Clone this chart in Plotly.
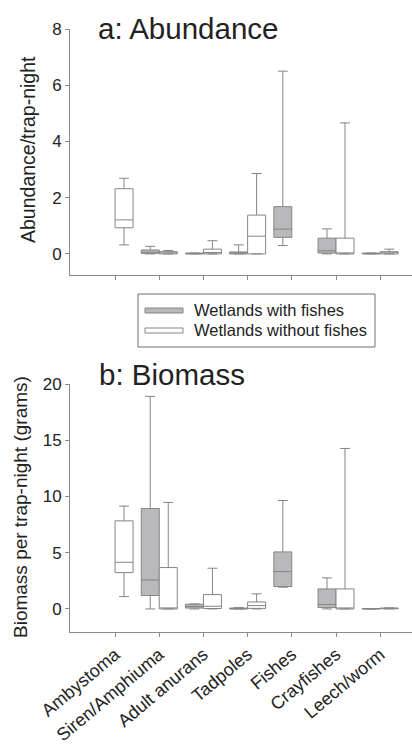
import plotly.graph_objects as go

W, H = 412, 747

categories = ["Ambystoma", "Siren/Amphiuma", "Adult anurans", "Tadpoles",
              "Fishes", "Crayfishes", "Leech/worm"]

# ---- a: Abundance ----
ab_fish_cats = ["Siren/Amphiuma", "Adult anurans", "Tadpoles", "Fishes", "Crayfishes", "Leech/worm"]
ab_fish_low = [0.0, 0.0, 0.0, 0.30, 0.0, 0.0]
ab_fish_q1 = [0.02, 0.0, 0.0, 0.59, 0.03, 0.0]
ab_fish_med = [0.06, 0.01, 0.02, 0.88, 0.11, 0.01]
ab_fish_q3 = [0.14, 0.03, 0.07, 1.68, 0.56, 0.03]
ab_fish_high = [0.27, 0.03, 0.32, 6.50, 0.89, 0.03]

ab_nofish_cats = ["Ambystoma", "Siren/Amphiuma", "Adult anurans", "Tadpoles", "Crayfishes", "Leech/worm"]
ab_nofish_low = [0.32, 0.0, 0.0, 0.0, 0.0, 0.0]
ab_nofish_q1 = [0.93, 0.0, 0.0, 0.0, 0.0, 0.0]
ab_nofish_med = [1.21, 0.04, 0.05, 0.63, 0.0, 0.04]
ab_nofish_q3 = [2.32, 0.08, 0.17, 1.38, 0.56, 0.08]
ab_nofish_high = [2.69, 0.12, 0.47, 2.86, 4.66, 0.17]

# ---- b: Biomass ----
bm_fish_cats = ab_fish_cats
bm_fish_low = [0.0, 0.0, 0.0, 1.93, 0.0, 0.0]
bm_fish_q1 = [1.19, 0.08, 0.0, 1.99, 0.12, 0.0]
bm_fish_med = [2.58, 0.22, 0.02, 3.32, 0.39, 0.01]
bm_fish_q3 = [8.93, 0.42, 0.08, 5.07, 1.78, 0.03]
bm_fish_high = [18.9, 0.45, 0.12, 9.64, 2.76, 0.03]

bm_nofish_cats = ab_nofish_cats
bm_nofish_low = [1.10, 0.0, 0.0, 0.0, 0.0, 0.0]
bm_nofish_q1 = [3.23, 0.0, 0.04, 0.05, 0.0, 0.02]
bm_nofish_med = [4.15, 0.0, 0.24, 0.30, 0.0, 0.05]
bm_nofish_q3 = [7.83, 3.68, 1.28, 0.62, 1.78, 0.08]
bm_nofish_high = [9.14, 9.47, 3.62, 1.34, 14.27, 0.10]

ab_ticks = [0, 2, 4, 6, 8]
bm_ticks = [0, 5, 10, 15, 20]

GREY_FILL = "#b9b9bc"
LINE = "#858585"
AXIS = "#8a8a8a"
TXT = "#222222"
FONT = "Liberation Sans, Arial, sans-serif"

fig = go.Figure()

def add_box(cats, low, q1, med, q3, high, fill, xa, ya, name):
    fig.add_trace(go.Box(
        x=cats, lowerfence=low, q1=q1, median=med, q3=q3, upperfence=high,
        fillcolor=fill, line=dict(color=LINE, width=1), whiskerwidth=0.55,
        xaxis=xa, yaxis=ya, name=name, offsetgroup=name, showlegend=False,
        hoverinfo="skip"))

add_box(ab_fish_cats, ab_fish_low, ab_fish_q1, ab_fish_med, ab_fish_q3, ab_fish_high,
        GREY_FILL, "x", "y", "fish")
add_box(ab_nofish_cats, ab_nofish_low, ab_nofish_q1, ab_nofish_med, ab_nofish_q3, ab_nofish_high,
        "white", "x", "y", "nofish")
add_box(bm_fish_cats, bm_fish_low, bm_fish_q1, bm_fish_med, bm_fish_q3, bm_fish_high,
        GREY_FILL, "x2", "y2", "fish")
add_box(bm_nofish_cats, bm_nofish_low, bm_nofish_q1, bm_nofish_med, bm_nofish_q3, bm_nofish_high,
        "white", "x2", "y2", "nofish")

def px_x(p):
    return p / W

def px_y(p):
    return 1 - p / H

xdom = [px_x(70), 1.0]
xaxis_common = dict(
    type="category", categoryorder="array", categoryarray=categories,
    range=[-1.02, 6.72], domain=xdom, showline=True, linecolor=AXIS, linewidth=1,
    ticks="outside", ticklen=4, tickcolor=AXIS, showgrid=False, zeroline=False,
    automargin=False,
    tickfont=dict(family=FONT, size=18, color=TXT),
)
yaxis_common = dict(
    showline=True, linecolor=AXIS, linewidth=1, ticks="outside", ticklen=4,
    tickcolor=AXIS, showgrid=False, zeroline=False, automargin=False,
    tickfont=dict(family=FONT, size=17, color=TXT),
)

fig.update_layout(
    template="none",
    width=W, height=H, margin=dict(l=0, r=0, t=0, b=0, pad=0),
    paper_bgcolor="white", plot_bgcolor="white",
    boxmode="group", boxgap=0.186, boxgroupgap=0.0,
    showlegend=False,
    font=dict(family=FONT, color=TXT),
    xaxis=dict(xaxis_common, anchor="y", showticklabels=False),
    yaxis=dict(yaxis_common, anchor="x", domain=[px_y(275), px_y(29)],
               range=[-0.75, 8], tickvals=ab_ticks),
    xaxis2=dict(xaxis_common, anchor="y2", tickangle=-40),
    yaxis2=dict(yaxis_common, anchor="x2", domain=[px_y(632), px_y(384)],
                range=[-2.05, 20], tickvals=bm_ticks),
)

annotations = [
    dict(text="a: Abundance", x=px_x(96), y=px_y(28), xanchor="left", yanchor="middle",
         font=dict(size=29.5, family=FONT, color=TXT)),
    dict(text="b: Biomass", x=px_x(97), y=px_y(374), xanchor="left", yanchor="middle",
         font=dict(size=29.5, family=FONT, color=TXT)),
    dict(text="Abundance/trap-night", x=px_x(28), y=px_y(150), textangle=-90,
         xanchor="center", yanchor="middle", font=dict(size=19.5, family=FONT, color=TXT)),
    dict(text="Biomass per trap-night (grams)", x=px_x(20), y=px_y(507), textangle=-90,
         xanchor="center", yanchor="middle", font=dict(size=19, family=FONT, color=TXT)),
    dict(text="Wetlands with fishes", x=px_x(192), y=px_y(310), xanchor="left", yanchor="middle",
         font=dict(size=16.5, family=FONT, color=TXT)),
    dict(text="Wetlands without fishes", x=px_x(192), y=px_y(330), xanchor="left", yanchor="middle",
         font=dict(size=16.5, family=FONT, color=TXT)),
]
for a in annotations:
    a.update(xref="paper", yref="paper", showarrow=False)
fig.update_layout(annotations=annotations)

shapes = [
    dict(type="rect", x0=px_x(138), x1=px_x(375), y0=px_y(347), y1=px_y(294),
         line=dict(color="#707070", width=1), fillcolor="rgba(0,0,0,0)"),
    dict(type="rect", x0=px_x(145), x1=px_x(183), y0=px_y(313), y1=px_y(308),
         line=dict(color=LINE, width=1), fillcolor=GREY_FILL),
    dict(type="rect", x0=px_x(145), x1=px_x(183), y0=px_y(333), y1=px_y(328),
         line=dict(color=LINE, width=1), fillcolor="white"),
]
for s in shapes:
    s.update(xref="paper", yref="paper")
fig.update_layout(shapes=shapes)

fig.write_html("out.html")
